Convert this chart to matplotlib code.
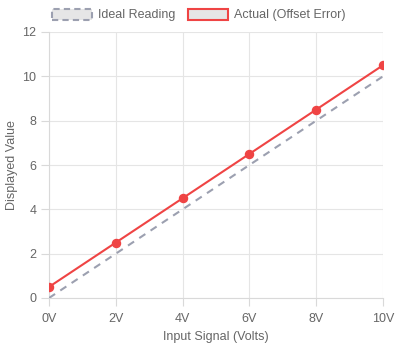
import matplotlib
matplotlib.use("Agg")
import matplotlib.pyplot as plt
from matplotlib.patches import Patch

categories = ["0V", "2V", "4V", "6V", "8V", "10V"]
ideal = [0, 2, 4, 6, 8, 10]
actual = [0.5, 2.5, 4.5, 6.5, 8.5, 10.5]
yticks = [0, 2, 4, 6, 8, 10, 12]

plt.rcParams['font.family'] = ['Liberation Sans', 'DejaVu Sans']
W, H = 397, 350
fig = plt.figure(figsize=(W/100, H/100), dpi=100)
L, R, T, B = 49, 383, 32, 298
ax = fig.add_axes([L/W, 1 - B/H, (R-L)/W, (B-T)/H])

x = list(range(len(categories)))
ideal_c = "#9ca0b0"
red = "#ef4444"
ax.plot(x, ideal, color=ideal_c, lw=1.5, dashes=(3.5, 3), zorder=3)
ax.plot(x, actual, color=red, lw=1.5, marker='o', ms=5.8, mfc=red, mec=red, zorder=4)

ax.set_xlim(0, len(categories)-1)
ax.set_ylim(0, 12)
ax.set_xticks(x)
ax.set_xticklabels(categories)
ax.set_yticks(yticks)
ax.grid(True, color="#e5e5e5", lw=0.8)
ax.set_axisbelow(True)
for s in ax.spines.values():
    s.set_visible(False)
ax.spines['left'].set_visible(True)
ax.spines['bottom'].set_visible(True)
ax.spines['left'].set_color("#d9d9d9")
ax.spines['bottom'].set_color("#d9d9d9")
ax.tick_params(axis='both', colors="#d9d9d9", labelcolor="#666666", labelsize=9, length=6, width=0.8)
ax.tick_params(axis='x', pad=5)
ax.tick_params(axis='y', pad=3)
ax.set_xlabel("Input Signal (Volts)", fontsize=9, color="#666666", labelpad=4)
ax.set_ylabel("Displayed Value", fontsize=9, color="#666666", labelpad=3)

handles = [
    Patch(facecolor="#e6e6e6", edgecolor=ideal_c, linestyle=(0, (3, 2)), lw=1.5, label="Ideal Reading"),
    Patch(facecolor="#e6e6e6", edgecolor=red, lw=1.5, label="Actual (Offset Error)"),
]
fig.legend(handles=handles, loc='center', bbox_to_anchor=(0.5, 1 - 15/H), ncol=2, frameon=False,
           fontsize=9, handlelength=3.2, handleheight=1.0, columnspacing=1.0, handletextpad=0.5,
           labelcolor="#666666")

fig.savefig("out.png", dpi=100)
